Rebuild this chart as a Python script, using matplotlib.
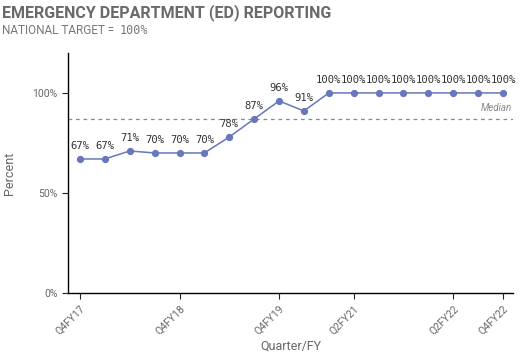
import matplotlib
matplotlib.use("Agg")
import matplotlib.pyplot as plt
from matplotlib.transforms import offset_copy

# quarterly ED reporting (%)
quarters = ["Q4FY17", "Q1FY18", "Q2FY18", "Q3FY18", "Q4FY18", "Q1FY19", "Q2FY19", "Q3FY19",
            "Q4FY19", "Q4FY20", "Q1FY21", "Q2FY21", "Q3FY21", "Q4FY21", "Q1FY22", "Q2FY22",
            "Q3FY22", "Q4FY22"]
percent = [67, 67, 71, 70, 70, 70, 78, 87, 96, 91, 100, 100, 100, 100, 100, 100, 100, 100]
shown_ticks = ["Q4FY17", "Q4FY18", "Q4FY19", "Q2FY21", "Q2FY22", "Q4FY22"]
median_value = 87

LINE = "#6677bb"
GREY = "#666666"

fig = plt.figure(figsize=(5.2, 3.6), dpi=100)
ax = fig.add_axes([0.1308, 0.186, 0.8557, 0.667])

x = list(range(len(quarters)))
ax.plot(x, percent, color=LINE, lw=1.1, marker="o", ms=4.2, zorder=3)
for xi, v in zip(x, percent):
    ax.annotate(f"{v}%", (xi, v), xytext=(0, 6), textcoords="offset points",
                ha="center", va="bottom", fontsize=7.6, family="DejaVu Sans Mono",
                color="#333333")

ax.axhline(median_value, color="#7a8aa8", lw=0.9, ls=(0, (3, 3)), zorder=1)
ax.text(17.35, median_value + 3, "Median", ha="right", va="bottom", fontsize=7,
        style="italic", color="#888888", family="Roboto")

ax.set_xlim(-0.48, 17.4)
ax.set_ylim(0, 120)
ax.set_yticks([0, 50, 100])
ax.set_yticklabels(["0%", "50%", "100%"])
ax.set_xticks([quarters.index(q) for q in shown_ticks])
ax.set_xticklabels(shown_ticks, rotation=45, ha="right", rotation_mode="anchor")
ax.tick_params(labelsize=7.5, colors="#222222", labelcolor=GREY, length=4)
for lbl in ax.get_xticklabels() + ax.get_yticklabels():
    lbl.set_family("Roboto")

for s in ["top", "right"]:
    ax.spines[s].set_visible(False)
for s in ["left", "bottom"]:
    ax.spines[s].set_linewidth(1.0)

ax.set_ylabel("Percent", fontsize=9, color=GREY, family="Roboto", labelpad=12)
ax.set_xlabel("Quarter/FY", fontsize=9, color=GREY, family="Roboto", labelpad=2)

fig.text(0.004, 0.965, "EMERGENCY DEPARTMENT (ED) REPORTING", fontsize=11.5,
         fontweight="bold", color="#6a6a6a", family="Roboto", va="center")
sub = fig.text(0.004, 0.915, "NATIONAL TARGET = ", fontsize=8.5, color="#777777",
               family="Roboto", va="center")
fig.canvas.draw()
bb = sub.get_window_extent()
fig.text(bb.x1 / fig.bbox.width + 0.004, 0.915, "100%", fontsize=8.5, color="#777777",
         family="DejaVu Sans Mono", va="center")

fig.savefig("out.png", dpi=100)
